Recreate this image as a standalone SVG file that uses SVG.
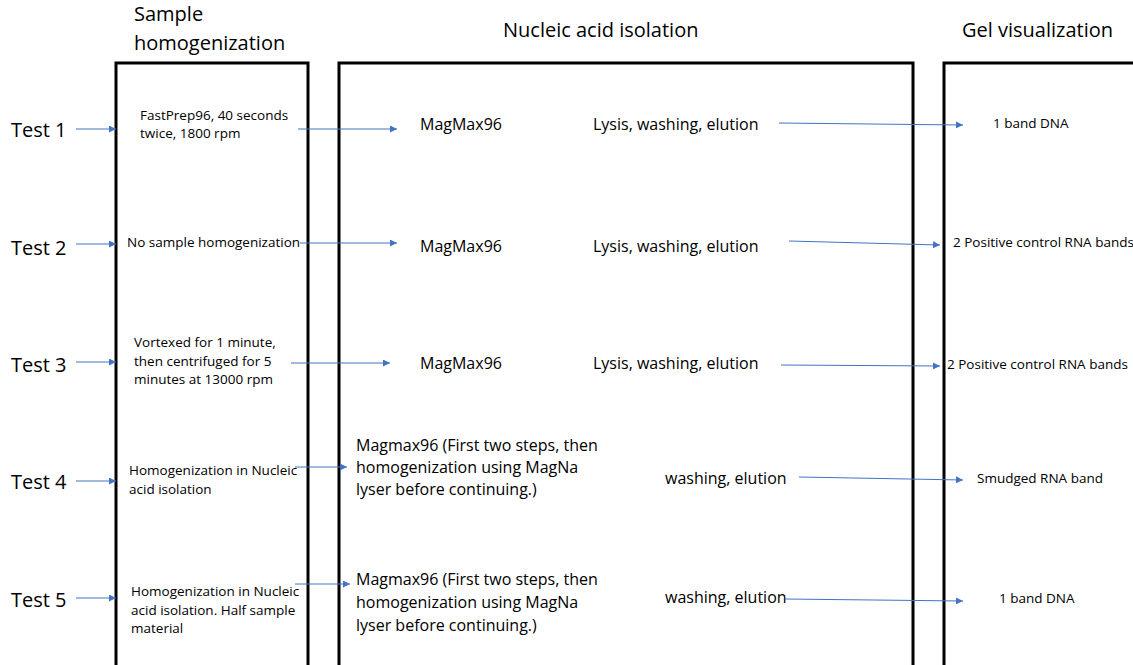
<svg xmlns="http://www.w3.org/2000/svg" width="1133" height="665" viewBox="0 0 1133 665">
<style>
text{font-family:"Open Sans","Noto Sans",sans-serif;fill:#000}
.h{font-size:20px}
.t{font-size:20px}
.s{font-size:13.5px}
.m{font-size:16px}
.box{fill:none;stroke:#000;stroke-width:3}
.c line{stroke:#4472C4;stroke-width:1;marker-end:url(#ah)}
</style>
<defs>
<marker id="ah" viewBox="0 0 10 10" refX="10" refY="5" markerWidth="9" markerHeight="7" markerUnits="userSpaceOnUse" orient="auto">
<path d="M0,0 L10,5 L0,10 z" fill="#4472C4"/>
</marker>
</defs>
<rect width="1133" height="665" fill="#fff"/>
<g id="col-homogenization">
<rect class="box" x="116" y="63" width="192" height="640"/>
<text class="h" x="134" y="21">Sample</text>
<text class="h" x="134" y="50">homogenization</text>
</g>
<g id="col-isolation">
<rect class="box" x="339" y="63" width="574" height="640"/>
<text class="h" x="503" y="37">Nucleic acid isolation</text>
</g>
<g id="col-gel">
<rect class="box" x="944" y="63" width="260" height="640"/>
<text class="h" x="962" y="37">Gel visualization</text>
</g>
<g id="test1">
<text class="t" x="11" y="137">Test 1</text>
<text class="s" x="140" y="120">FastPrep96, 40 seconds</text>
<text class="s" x="140" y="138">twice, 1800 rpm</text>
<text class="m" x="420" y="130">MagMax96</text>
<text class="m" x="593" y="130">Lysis, washing, elution</text>
<text class="s" x="993" y="128">1 band DNA</text>
</g>
<g id="test2">
<text class="t" x="11" y="255">Test 2</text>
<text class="s" x="127" y="247">No sample homogenization</text>
<text class="m" x="420" y="252">MagMax96</text>
<text class="m" x="593" y="252">Lysis, washing, elution</text>
<text class="s" x="953" y="247">2 Positive control RNA bands</text>
</g>
<g id="test3">
<text class="t" x="11" y="372">Test 3</text>
<text class="s" x="134" y="347">Vortexed for 1 minute,</text>
<text class="s" x="134" y="366">then centrifuged for 5</text>
<text class="s" x="134" y="384">minutes at 13000 rpm</text>
<text class="m" x="420" y="369">MagMax96</text>
<text class="m" x="593" y="369">Lysis, washing, elution</text>
<text class="s" x="947" y="369">2 Positive control RNA bands</text>
</g>
<g id="test4">
<text class="t" x="11" y="489">Test 4</text>
<text class="s" x="129" y="475">Homogenization in Nucleic</text>
<text class="s" x="129" y="494">acid isolation</text>
<text class="m" x="356" y="451">Magmax96 (First two steps, then</text>
<text class="m" x="356" y="473">homogenization using MagNa</text>
<text class="m" x="356" y="495">lyser before continuing.)</text>
<text class="m" x="665" y="484">washing, elution</text>
<text class="s" x="977" y="483">Smudged RNA band</text>
</g>
<g id="test5">
<text class="t" x="11" y="607">Test 5</text>
<text class="s" x="131" y="596">Homogenization in Nucleic</text>
<text class="s" x="131" y="615">acid isolation. Half sample</text>
<text class="s" x="131" y="633">material</text>
<text class="m" x="356" y="585">Magmax96 (First two steps, then</text>
<text class="m" x="356" y="608">homogenization using MagNa</text>
<text class="m" x="356" y="631">lyser before continuing.)</text>
<text class="m" x="665" y="603">washing, elution</text>
<text class="s" x="999" y="603">1 band DNA</text>
</g>
<g id="connectors" class="c">
<line x1="76" y1="129" x2="116" y2="129"/>
<line x1="76" y1="244" x2="116" y2="244"/>
<line x1="76" y1="362" x2="116" y2="362"/>
<line x1="76" y1="481" x2="116" y2="481"/>
<line x1="76" y1="598" x2="116" y2="598"/>
<line x1="298" y1="129" x2="397" y2="129"/>
<line x1="300" y1="243" x2="397" y2="243"/>
<line x1="291" y1="363" x2="390" y2="363"/>
<line x1="295" y1="467" x2="347" y2="467"/>
<line x1="295" y1="584" x2="350" y2="584"/>
<line x1="779" y1="123" x2="963" y2="125"/>
<line x1="789" y1="241" x2="940" y2="245"/>
<line x1="781" y1="365" x2="940" y2="366"/>
<line x1="799" y1="477" x2="963" y2="480"/>
<line x1="785" y1="599" x2="963" y2="601"/>
</g>
</svg>
